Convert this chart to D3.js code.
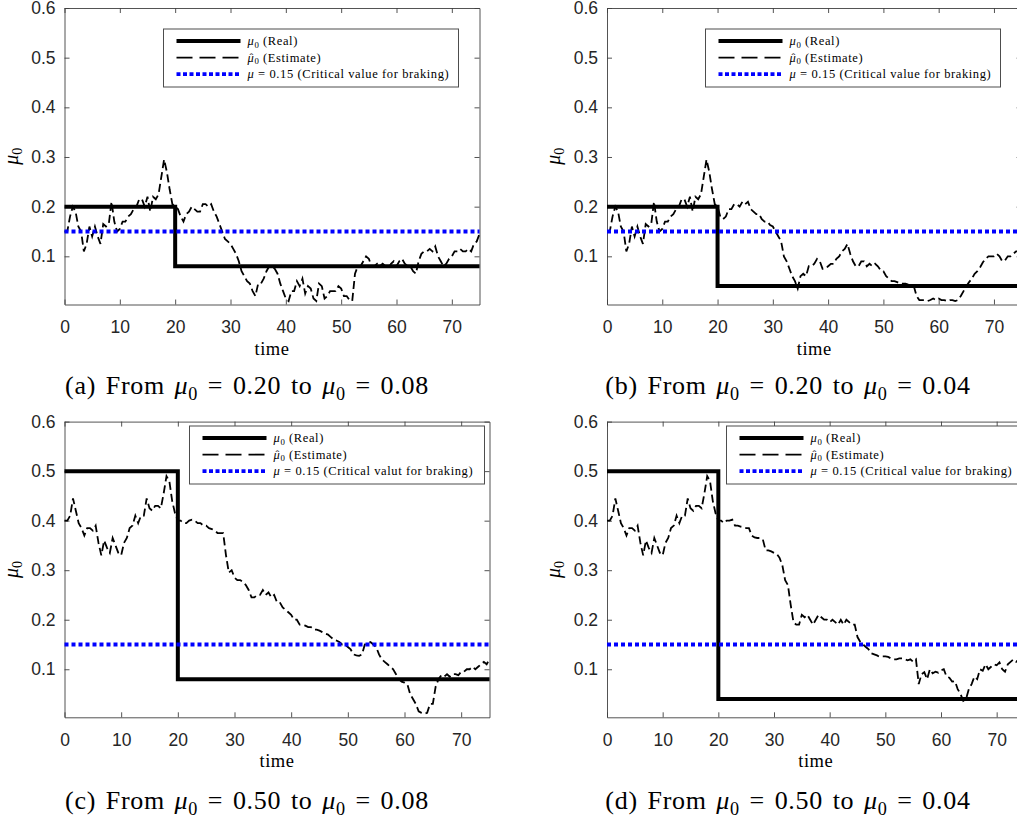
<!DOCTYPE html>
<html>
<head>
<meta charset="utf-8">
<script src="https://cdn.jsdelivr.net/npm/d3@7"></script>
<style>
  body { margin: 0; background: #fff; }
  svg { display: block; background: #fff; }
  .axis text { font-family: "Liberation Sans", Arial, sans-serif; font-size: 17.5px; fill: #262626; }
  .serif { font-family: "Liberation Serif", "DejaVu Serif", serif; fill: #000; }
</style>
</head>
<body>
<svg width="1017" height="823"></svg>
<script>
// sampling grid of the estimates (every 0.5 time units)
const sampleTimes = d3.range(0, 75.01, 0.5);

const estimateA = [
  0.15, 0.15, 0.18, 0.20, 0.19, 0.16, 0.15, 0.11, 0.125, 0.16,
  0.14, 0.16, 0.14, 0.125, 0.165, 0.16, 0.165, 0.21, 0.17, 0.15,
  0.155, 0.17, 0.17, 0.18, 0.185, 0.195, 0.20, 0.215, 0.215, 0.20,
  0.22, 0.19, 0.22, 0.215, 0.225, 0.26, 0.295, 0.27, 0.235, 0.205,
  0.20, 0.195, 0.18, 0.17, 0.185, 0.19, 0.20, 0.195, 0.19, 0.19,
  0.205, 0.205, 0.20, 0.205, 0.19, 0.18, 0.165, 0.15, 0.135, 0.13,
  0.125, 0.115, 0.105, 0.09, 0.07, 0.06, 0.05, 0.045, 0.03, 0.02,
  0.045, 0.045, 0.055, 0.07, 0.08, 0.08, 0.075, 0.065, 0.045, 0.03,
  0.015, 0.01, 0.03, 0.03, 0.05, 0.04, 0.055, 0.025, 0.04, 0.035,
  0.015, 0.01, 0.045, 0.04, 0.015, 0.02, 0.03, 0.03, 0.03, 0.04,
  0.035, 0.02, 0.02, 0.012, 0.01, 0.065, 0.08, 0.08, 0.09, 0.10,
  0.095, 0.08, 0.08, 0.085, 0.08, 0.085, 0.08, 0.075, 0.085, 0.09,
  0.08, 0.09, 0.095, 0.085, 0.08, 0.08, 0.07, 0.065, 0.09, 0.105,
  0.11, 0.11, 0.115, 0.11, 0.12, 0.10, 0.09, 0.08, 0.085, 0.095,
  0.10, 0.11, 0.11, 0.115, 0.11, 0.11, 0.115, 0.11, 0.125, 0.13,
  0.145
];

const estimateB = [
  0.15, 0.15, 0.18, 0.20, 0.19, 0.16, 0.15, 0.11, 0.125, 0.16,
  0.14, 0.16, 0.14, 0.125, 0.165, 0.16, 0.165, 0.21, 0.17, 0.15,
  0.155, 0.17, 0.17, 0.18, 0.185, 0.195, 0.20, 0.215, 0.215, 0.20,
  0.22, 0.19, 0.22, 0.215, 0.225, 0.26, 0.295, 0.27, 0.235, 0.205,
  0.20, 0.18, 0.175, 0.18, 0.195, 0.195, 0.205, 0.205, 0.20, 0.21,
  0.205, 0.21, 0.195, 0.19, 0.185, 0.185, 0.175, 0.17, 0.17, 0.163,
  0.16, 0.15, 0.14, 0.13, 0.10, 0.09, 0.075, 0.06, 0.05, 0.035,
  0.06, 0.065, 0.06, 0.08, 0.08, 0.085, 0.095, 0.09, 0.075, 0.075,
  0.08, 0.085, 0.085, 0.095, 0.10, 0.11, 0.115, 0.125, 0.105, 0.09,
  0.08, 0.08, 0.09, 0.09, 0.08, 0.085, 0.08, 0.085, 0.08, 0.072,
  0.07, 0.06, 0.055, 0.05, 0.05, 0.048, 0.045, 0.045, 0.045, 0.043,
  0.042, 0.04, 0.02, 0.012, 0.012, 0.012, 0.01, 0.012, 0.015, 0.012,
  0.015, 0.012, 0.012, 0.01, 0.012, 0.012, 0.01, 0.012, 0.02, 0.03,
  0.04, 0.048, 0.055, 0.065, 0.07, 0.078, 0.088, 0.095, 0.10, 0.10,
  0.10, 0.105, 0.10, 0.09, 0.092, 0.10, 0.10, 0.105, 0.11, 0.11,
  0.105
];

const estimateC = [
  0.40, 0.40, 0.41, 0.445, 0.42, 0.395, 0.385, 0.37, 0.385, 0.385,
  0.38, 0.39, 0.355, 0.33, 0.36, 0.345, 0.335, 0.365, 0.35, 0.335,
  0.33, 0.355, 0.365, 0.385, 0.39, 0.41, 0.395, 0.41, 0.41, 0.445,
  0.425, 0.42, 0.43, 0.43, 0.425, 0.455, 0.49, 0.48, 0.44, 0.415,
  0.40, 0.40, 0.395, 0.395, 0.40, 0.402, 0.40, 0.395, 0.395, 0.39,
  0.39, 0.385, 0.383, 0.38, 0.375, 0.375, 0.375, 0.33, 0.295, 0.30,
  0.285, 0.28, 0.28, 0.276, 0.27, 0.26, 0.245, 0.245, 0.25, 0.25,
  0.26, 0.25, 0.255, 0.245, 0.25, 0.235, 0.235, 0.225, 0.22, 0.215,
  0.21, 0.20, 0.20, 0.19, 0.19, 0.188, 0.185, 0.185, 0.18, 0.18,
  0.178, 0.175, 0.172, 0.17, 0.165, 0.16, 0.158, 0.155, 0.15, 0.15,
  0.145, 0.14, 0.13, 0.128, 0.127, 0.13, 0.15, 0.152, 0.155, 0.15,
  0.145, 0.13, 0.12, 0.115, 0.11, 0.105, 0.10, 0.09, 0.08, 0.075,
  0.073, 0.07, 0.05, 0.04, 0.03, 0.015, 0.012, 0.01, 0.012, 0.03,
  0.03, 0.065, 0.08, 0.088, 0.085, 0.09, 0.085, 0.09, 0.09, 0.088,
  0.095, 0.095, 0.10, 0.10, 0.105, 0.10, 0.105, 0.11, 0.115, 0.11,
  0.12
];

const estimateD = [
  0.40, 0.40, 0.41, 0.445, 0.42, 0.395, 0.385, 0.37, 0.385, 0.385,
  0.38, 0.39, 0.355, 0.33, 0.36, 0.345, 0.335, 0.365, 0.35, 0.335,
  0.33, 0.355, 0.365, 0.385, 0.39, 0.41, 0.395, 0.41, 0.41, 0.445,
  0.425, 0.42, 0.43, 0.43, 0.425, 0.455, 0.49, 0.48, 0.44, 0.415,
  0.40, 0.40, 0.395, 0.40, 0.40, 0.402, 0.39, 0.39, 0.388, 0.387,
  0.385, 0.385, 0.37, 0.366, 0.365, 0.365, 0.362, 0.34, 0.34, 0.338,
  0.335, 0.333, 0.325, 0.31, 0.28, 0.27, 0.23, 0.195, 0.19, 0.19,
  0.21, 0.205, 0.21, 0.20, 0.19, 0.20, 0.21, 0.205, 0.20, 0.20,
  0.195, 0.20, 0.195, 0.19, 0.20, 0.19, 0.20, 0.195, 0.19, 0.19,
  0.165, 0.155, 0.15, 0.145, 0.14, 0.132, 0.13, 0.128, 0.125, 0.126,
  0.126, 0.125, 0.122, 0.12, 0.12, 0.122, 0.122, 0.12, 0.118, 0.12,
  0.115, 0.12, 0.07, 0.09, 0.094, 0.08, 0.10, 0.092, 0.095, 0.093,
  0.098, 0.10, 0.085, 0.083, 0.075, 0.076, 0.06, 0.05, 0.036, 0.04,
  0.06, 0.07, 0.085, 0.08, 0.10, 0.097, 0.11, 0.10, 0.105, 0.11,
  0.108, 0.114, 0.10, 0.095, 0.11, 0.115, 0.12, 0.115, 0.12, 0.12,
  0.12
];

const estimates = [estimateA, estimateB, estimateC, estimateD];
const realBefore = [0.20, 0.20, 0.50, 0.50];
const realAfter = [0.08, 0.04, 0.08, 0.04];
const switchTime = 20;
const endTime = 75;
const criticalValue = 0.15;
const panelLetters = ['a', 'b', 'c', 'd'];
const captionFrom = ['0.20', '0.20', '0.50', '0.50'];
const captionTo = ['0.08', '0.04', '0.08', '0.04'];
const criticalText = [
  'Critical value for braking',
  'Critical value for braking',
  'Critical valut for braking',
  'Critical value for braking'
];
const xTicks = [0, 10, 20, 30, 40, 50, 60, 70];
const yTicks = [0.1, 0.2, 0.3, 0.4, 0.5, 0.6];
const yDomain = [0.003, 0.6];

// layout of the four panels
const layout = [
  { left: 64.5, top: 8, width: 415, height: 296.5, legendX: 163.5, legendY: 29, capX: 247, capY: 394 },
  { left: 607, top: 8, width: 414.6, height: 296.5, legendX: 705.5, legendY: 29, capX: 788, capY: 394 },
  { left: 64.5, top: 421.6, width: 425, height: 295.7, legendX: 189.5, legendY: 426, capX: 247, capY: 809 },
  { left: 607, top: 421.6, width: 417.5, height: 295.7, legendX: 726.5, legendY: 426, capX: 788, capY: 809 }
];

const svg = d3.select('svg');
const axisColor = '#404040';

// writes pieces of text; pieces with sub:true are lowered subscripts
function mathText(textSel, parts, size) {
  let shift = 0;
  parts.forEach(p => {
    const target = p.sub ? size * 0.22 : 0;
    const ts = textSel.append('tspan').text(p.t);
    if (target !== shift) ts.attr('dy', target - shift);
    if (p.sub) ts.attr('font-size', size * 0.7);
    if (p.italic) ts.attr('font-style', 'italic');
    shift = target;
  });
}

layout.forEach((p, i) => {
  const g = svg.append('g').attr('transform', `translate(${p.left}, ${p.top})`);
  const x = d3.scaleLinear().domain([0, endTime]).range([0, p.width]);
  const y = d3.scaleLinear().domain(yDomain).range([p.height, 0]);

  const styleAxis = sel => {
    sel.select('.domain').attr('stroke', axisColor).attr('stroke-width', 0.9);
    sel.selectAll('.tick line').attr('stroke', axisColor).attr('stroke-width', 0.9);
  };

  g.append('g').attr('class', 'axis')
    .attr('transform', `translate(0, ${p.height})`)
    .call(d3.axisBottom(x).tickValues(xTicks).tickSizeInner(-5).tickSizeOuter(0).tickPadding(16))
    .call(styleAxis);
  g.append('g').attr('class', 'axis')
    .call(d3.axisTop(x).tickValues(xTicks).tickSizeInner(-5).tickSizeOuter(0).tickFormat(''))
    .call(styleAxis);
  g.append('g').attr('class', 'axis')
    .call(d3.axisLeft(y).tickValues(yTicks).tickSizeInner(-5).tickSizeOuter(0).tickPadding(9).tickFormat(d3.format('.1f')))
    .call(styleAxis);
  g.append('g').attr('class', 'axis')
    .attr('transform', `translate(${p.width}, 0)`)
    .call(d3.axisRight(y).tickValues(yTicks).tickSizeInner(-5).tickSizeOuter(0).tickFormat(''))
    .call(styleAxis);

  const line = d3.line().x(d => x(d[0])).y(d => y(d[1]));

  // estimate
  const estPts = sampleTimes.map((t, k) => [t, estimates[i][k]]);
  g.append('path')
    .datum(estPts)
    .attr('fill', 'none')
    .attr('stroke', '#000')
    .attr('stroke-width', 1.8)
    .attr('stroke-dasharray', '8,4')
    .attr('d', line);

  // real value (step)
  const realPts = [
    [0, realBefore[i]], [switchTime, realBefore[i]],
    [switchTime, realAfter[i]], [endTime, realAfter[i]]
  ];
  g.append('path')
    .datum(realPts)
    .attr('fill', 'none')
    .attr('stroke', '#000')
    .attr('stroke-width', 4)
    .attr('stroke-linejoin', 'miter')
    .attr('d', line);

  // critical value
  g.append('path')
    .datum([[0, criticalValue], [endTime, criticalValue]])
    .attr('fill', 'none')
    .attr('stroke', '#0000ff')
    .attr('stroke-width', 3.8)
    .attr('stroke-dasharray', '4,3')
    .attr('d', line);

  // axis labels
  g.append('text').attr('class', 'serif')
    .attr('x', p.width / 2).attr('y', p.height + 50)
    .attr('text-anchor', 'middle').attr('font-size', 18.5)
    .attr('letter-spacing', 0.5)
    .text('time');
  const yl = g.append('text').attr('class', 'serif')
    .attr('transform', `translate(${-47}, ${p.height / 2}) rotate(-90)`)
    .attr('text-anchor', 'middle').attr('font-size', 20);
  mathText(yl, [{ t: 'μ', italic: true }, { t: '0', sub: true }], 20);

  // legend
  const lg = svg.append('g').attr('transform', `translate(${p.legendX}, ${p.legendY})`);
  lg.append('rect').attr('width', 295).attr('height', 58)
    .attr('fill', '#fff').attr('stroke', '#4d4d4d').attr('stroke-width', 1);
  const rows = [
    { stroke: '#000', w: 4, dash: null },
    { stroke: '#000', w: 1.8, dash: '16,7' },
    { stroke: '#0000ff', w: 3.8, dash: '4,2.5' }
  ];
  const fs = 12.5;
  rows.forEach((r, j) => {
    const ry = 12 + j * 16.6;
    lg.append('line').attr('x1', 13).attr('x2', 77).attr('y1', ry).attr('y2', ry)
      .attr('stroke', r.stroke).attr('stroke-width', r.w)
      .attr('stroke-dasharray', r.dash);
    const t = lg.append('text').attr('class', 'serif')
      .attr('x', 84).attr('y', ry + 4).attr('font-size', fs)
      .attr('letter-spacing', 0.6);
    if (j === 0) mathText(t, [{ t: 'μ', italic: true }, { t: '0', sub: true }, { t: ' (Real)' }], fs);
    if (j === 1) {
      mathText(t, [{ t: 'μ', italic: true }, { t: '0', sub: true }, { t: ' (Estimate)' }], fs);
      const box = t.node().getExtentOfChar(0);
      lg.append('text').attr('class', 'serif')
        .attr('x', box.x + box.width / 2 + 0.5).attr('y', ry + 3.5)
        .attr('text-anchor', 'middle').attr('font-size', fs * 0.9)
        .text('ˆ');
    }
    if (j === 2) mathText(t, [{ t: 'μ', italic: true }, { t: ` = ${criticalValue} (${criticalText[i]})` }], fs);
  });

  // caption
  const cap = svg.append('text').attr('class', 'serif')
    .attr('x', p.capX).attr('y', p.capY)
    .attr('text-anchor', 'middle').attr('font-size', 26)
    .attr('letter-spacing', 0.7).attr('word-spacing', 2.5);
  mathText(cap, [
    { t: `(${panelLetters[i]}) From ` },
    { t: 'μ', italic: true }, { t: '0', sub: true },
    { t: ` = ${captionFrom[i]} to ` },
    { t: 'μ', italic: true }, { t: '0', sub: true },
    { t: ` = ${captionTo[i]}` }
  ], 26);
});
</script>
</body>
</html>
